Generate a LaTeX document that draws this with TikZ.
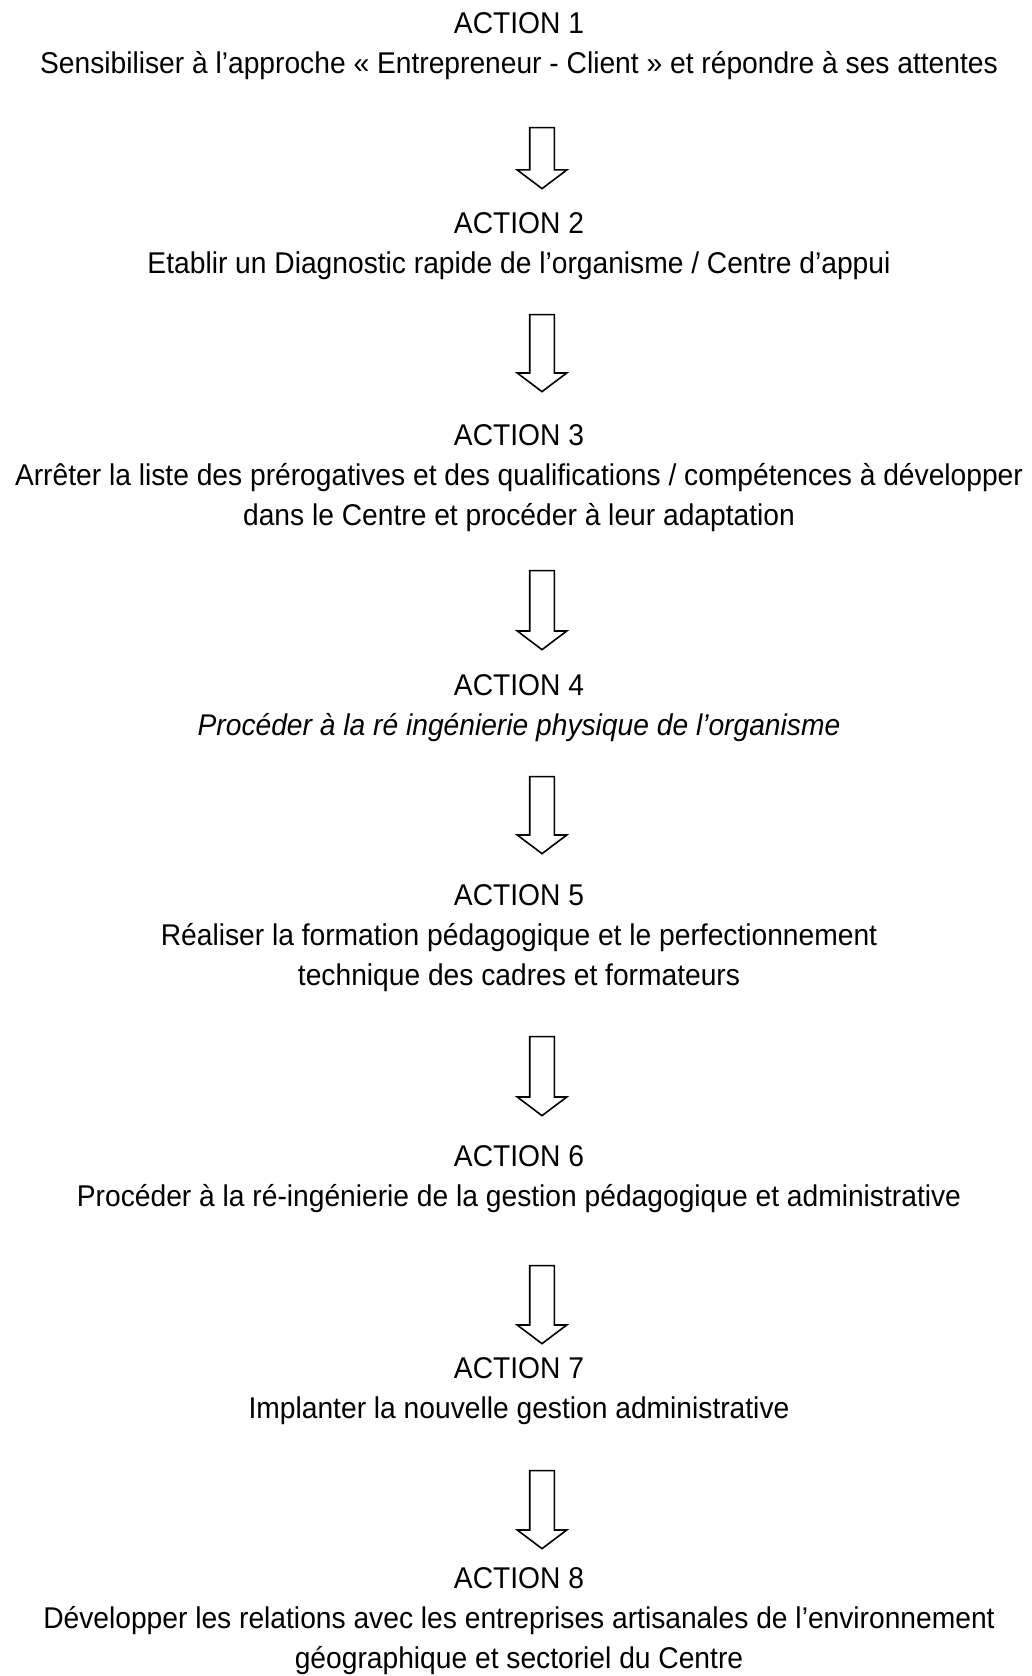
\documentclass[tikz,border=0pt]{standalone}
\usepackage{fontspec}
\setmainfont{Liberation Sans}[FakeStretch=0.94]
\usetikzlibrary{shapes.arrows}

\begin{document}
\begin{tikzpicture}[
    x=1pt, y=-1pt,
    action/.style={align=center, inner sep=0pt, anchor=north, font=\fontsize{30}{40}\selectfont},
    fleche/.style={draw, line width=1.6pt, single arrow, shape border rotate=270,
        inner sep=11.5pt, single arrow head extend=12.5pt, single arrow tip angle=106},
    ]
\useasboundingbox (0,0) rectangle (1031,1676);

% Actions
\node[action] (action1) at (519,12.5) {ACTION 1\\Sensibiliser à l’approche « Entrepreneur - Client » et répondre à ses attentes};
\node[action] (action2) at (519,212) {ACTION 2\\Etablir un Diagnostic rapide de l’organisme / Centre d’appui};
\node[action] (action3) at (519,424) {ACTION 3\\Arrêter la liste des prérogatives et des qualifications / compétences à développer\\dans le Centre et procéder à leur adaptation};
\node[action] (action4) at (519,674) {ACTION 4\\\textit{Procéder à la ré ingénierie physique de l’organisme}};
\node[action] (action5) at (519,884) {ACTION 5\\Réaliser la formation pédagogique et le perfectionnement\\technique des cadres et formateurs};
\node[action] (action6) at (519,1145) {ACTION 6\\Procéder à la ré-ingénierie de la gestion pédagogique et administrative};
\node[action] (action7) at (519,1357) {ACTION 7\\Implanter la nouvelle gestion administrative};
\node[action] (action8) at (519,1567) {ACTION 8\\Développer les relations avec les entreprises artisanales de l’environnement\\géographique et sectoriel du Centre};

% Flèches
\node[fleche, minimum height=61pt] (f1) at (542,153.5) {};
\node[fleche, minimum height=77pt] (f2) at (542,348.5) {};
\node[fleche, minimum height=79pt] (f3) at (542,605.5) {};
\node[fleche, minimum height=77pt] (f4) at (542,810.5) {};
\node[fleche, minimum height=79pt] (f5) at (542,1071.5) {};
\node[fleche, minimum height=78pt] (f6) at (542,1300) {};
\node[fleche, minimum height=78pt] (f7) at (542,1505) {};

\end{tikzpicture}
\end{document}
